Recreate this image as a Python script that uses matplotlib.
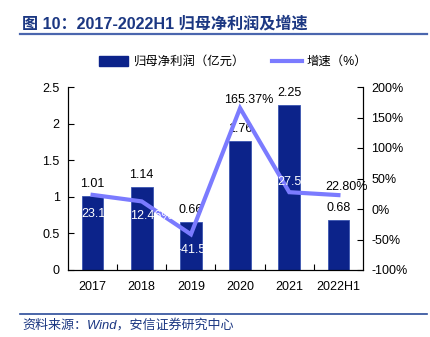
import matplotlib
matplotlib.use("Agg")
import matplotlib.pyplot as plt
from matplotlib.lines import Line2D
from matplotlib.patches import Patch
from matplotlib.ticker import FixedLocator

plt.rcParams['font.family'] = ['Liberation Sans', 'Noto Sans CJK SC', 'DejaVu Sans']

categories = ['2017', '2018', '2019', '2020', '2021', '2022H1']
profit = [1.01, 1.14, 0.66, 1.76, 2.25, 0.68]
growth = [23.15, 12.46, -41.52, 165.37, 27.56, 22.80]
left_ticks = [0, 0.5, 1, 1.5, 2, 2.5]
left_labels = ['0', '0.5', '1', '1.5', '2', '2.5']
right_ticks = [-100, -50, 0, 50, 100, 150, 200]
right_labels = ['-100%', '-50%', '0%', '50%', '100%', '150%', '200%']
title = '图 10：2017-2022H1 归母净利润及增速'
legend_labels = ['归母净利润（亿元）', '增速（%）']
source = '资料来源：Wind，安信证券研究中心'

bar_color = '#0C238A'
line_color = '#7B7BFF'
title_color = '#1B3782'

W, H = 431, 337
fig = plt.figure(figsize=(W / 100, H / 100), dpi=100)
ax = fig.add_axes([68 / W, 1 - 270 / H, (363 - 68) / W, (270 - 87) / H])
ax2 = ax.twinx()

x = list(range(len(categories)))
ax.bar(x, profit, width=0.44, color=bar_color, edgecolor='#3A55B0', linewidth=0.6, zorder=2)
ax.set_xlim(-0.5, len(categories) - 0.5)
ax.set_ylim(0, 2.5)
ax.set_yticks(left_ticks)
ax.set_yticklabels(left_labels)
ax.set_xticks(x)
ax.set_xticklabels(categories)
ax.xaxis.set_minor_locator(FixedLocator([i + 0.5 for i in range(len(categories) - 1)]))
ax.tick_params(axis='x', which='major', length=0, labelsize=9, pad=8)
ax.tick_params(axis='x', which='minor', direction='in', length=4, width=0.8)
ax.tick_params(axis='y', direction='in', length=4, width=0.8, labelsize=9, pad=6)

for s in ['top']:
    ax.spines[s].set_visible(False)
    ax2.spines[s].set_visible(False)
for s in ['left', 'bottom', 'right']:
    ax.spines[s].set_linewidth(0.8)
    ax2.spines[s].set_linewidth(0.8)

for xi, v in zip(x, profit):
    ax.annotate(f'{v:.2f}', (xi, v), xytext=(0, 12), textcoords='offset pixels',
                ha='center', va='center', fontsize=9, color='black', zorder=5)

ax2.plot(x, growth, color=line_color, linewidth=3, solid_joinstyle='miter', zorder=3)
ax2.set_ylim(-100, 200)
ax2.set_yticks(right_ticks)
ax2.set_yticklabels(right_labels)
ax2.tick_params(axis='y', direction='in', length=4, width=0.8, labelsize=9, pad=6)

offsets = [(10, -19), (10, -15), (10, -16), (9, 8), (9, 10), (8, 8)]
colors = ['white', 'white', 'white', 'black', 'white', 'black']
for xi, v, off, c in zip(x, growth, offsets, colors):
    ax2.annotate(f'{v:.2f}%', (xi, v), xytext=off, textcoords='offset pixels',
                 ha='center', va='center', fontsize=9, color=c, zorder=6)

handles = [Patch(facecolor=bar_color, edgecolor=bar_color),
           Line2D([0], [0], color=line_color, linewidth=3)]
fig.legend(handles, legend_labels, loc='center', bbox_to_anchor=(233 / W, 1 - 62 / H),
           ncol=2, frameon=False, fontsize=8.9, handlelength=2.4, handleheight=0.85,
           columnspacing=2.2, handletextpad=0.4)

fig.text(22 / W, 1 - 24 / H, title, fontsize=11.6, fontweight='bold', color=title_color,
         ha='left', va='center')
fig.add_artist(Line2D([20 / W, 427 / W], [1 - 34 / H, 1 - 34 / H], color='#4A66AE', linewidth=1.6))
fig.add_artist(Line2D([20 / W, 427 / W], [1 - 314 / H, 1 - 314 / H], color='#2B4C9A', linewidth=1.2))
fig.text(22 / W, 1 - 325 / H, source, fontsize=9.4, style='italic', color=title_color,
         ha='left', va='center')

fig.savefig('out.png', dpi=100)
